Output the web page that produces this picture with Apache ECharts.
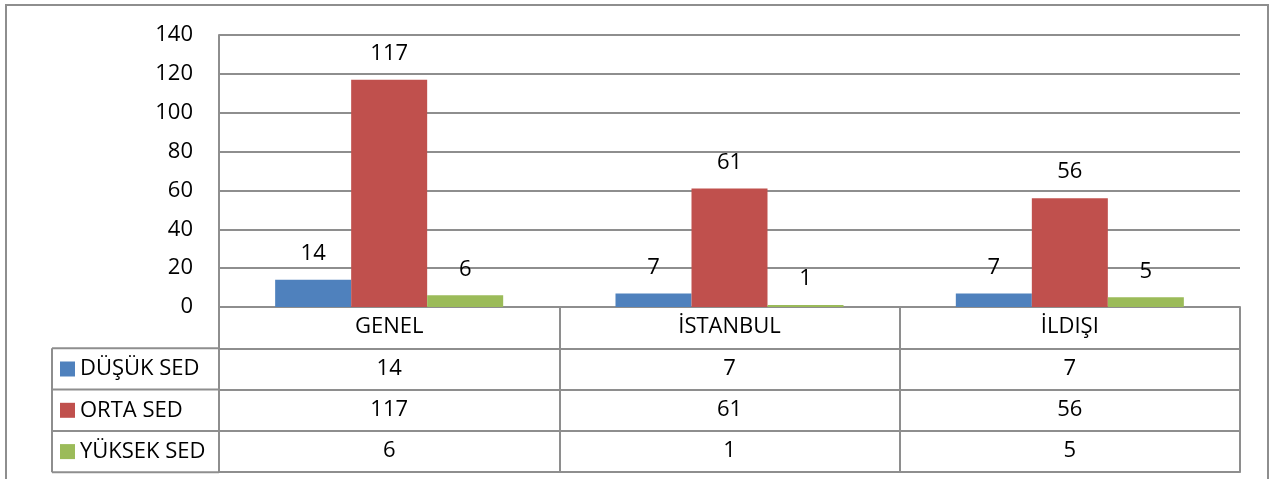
<!DOCTYPE html>
<html>
<head>
<meta charset="utf-8">
<script src="https://cdn.jsdelivr.net/npm/echarts@6/dist/echarts.min.js"></script>
<style>
  html, body { margin: 0; padding: 0; background: #fff; }
  #chart { width: 1280px; height: 479px; }
</style>
</head>
<body>
<div id="chart"></div>
<script>
  // data
  const categories = ['GENEL', 'İSTANBUL', 'İLDIŞI'];
  const seriesNames = ['DÜŞÜK SED', 'ORTA SED', 'YÜKSEK SED'];
  const dusukSed = [14, 7, 7];
  const ortaSed = [117, 61, 56];
  const yuksekSed = [6, 1, 5];
  const colors = ['#4F81BD', '#C0504D', '#9BBB59'];

  const FONT = 'Open Sans';
  const FS = 22;
  const LINE = '#8e8e8e';
  const ROW = 41.3;

  let chart = echarts.init(document.getElementById('chart'));

  // one extra x axis per table row, its labels are the series values
  function rowAxis(values, offset) {
    return {
      type: 'category',
      position: 'bottom',
      offset: offset,
      data: values.map(String),
      axisLine: { show: true, lineStyle: { color: LINE, width: 2 } },
      axisTick: { show: true, inside: false, length: ROW, lineStyle: { color: LINE, width: 2 } },
      axisLabel: { interval: 0, margin: 9, fontSize: FS, fontFamily: FONT, color: '#000' }
    };
  }

  const allValues = [dusukSed, ortaSed, yuksekSed];

  let option = {
    animation: false,
    backgroundColor: '#fff',
    color: colors,
    grid: { left: 219, right: 40, top: 35, bottom: 172 },
    legend: {
      data: seriesNames,
      orient: 'vertical',
      left: 60,
      top: 358,
      padding: 0,
      icon: 'rect',
      itemWidth: 15,
      itemHeight: 15,
      itemGap: 19.3,
      selectedMode: false,
      textStyle: { fontSize: FS, lineHeight: 22, fontFamily: FONT, color: '#000' }
    },
    xAxis: [
      {
        type: 'category',
        data: categories,
        axisLine: { show: true, lineStyle: { color: LINE, width: 2 } },
        axisTick: { show: true, inside: false, length: ROW, lineStyle: { color: LINE, width: 2 } },
        axisLabel: { interval: 0, margin: 9, fontSize: FS, fontFamily: FONT, color: '#000' }
      },
      rowAxis(dusukSed, ROW),
      rowAxis(ortaSed, ROW * 2),
      rowAxis(yuksekSed, ROW * 3),
      {
        type: 'category',
        position: 'bottom',
        offset: ROW * 4,
        data: categories,
        axisLine: { show: true, lineStyle: { color: LINE, width: 2 } },
        axisTick: { show: false },
        axisLabel: { show: false }
      }
    ],
    yAxis: {
      type: 'value',
      min: 0,
      max: 140,
      interval: 20,
      axisLine: { show: true, lineStyle: { color: LINE, width: 2 } },
      axisTick: { show: false },
      axisLabel: { margin: 26, fontSize: FS, fontFamily: FONT, color: '#000' },
      splitLine: { show: true, lineStyle: { color: LINE, width: 2 } }
    },
    series: seriesNames.map(function (name, i) {
      return {
        name: name,
        type: 'bar',
        xAxisIndex: 0,
        barGap: '0%',
        barCategoryGap: '33%',
        data: allValues[i],
        label: {
          show: true,
          position: 'top',
          distance: 15,
          fontSize: FS,
          fontFamily: FONT,
          color: '#000'
        }
      };
    }),
    graphic: [
      {
        type: 'rect',
        shape: { x: 6, y: 5, width: 1262, height: 500 },
        style: { fill: 'none', stroke: LINE, lineWidth: 2 },
        silent: true
      }
    ]
  };

  // left column of the data table (series names)
  const tableTop = 307;
  for (let r = 1; r <= 4; r++) {
    option.graphic.push({
      type: 'line',
      shape: { x1: 52, y1: tableTop + ROW * r, x2: 219, y2: tableTop + ROW * r },
      style: { stroke: LINE, lineWidth: 2 },
      silent: true
    });
  }
  option.graphic.push({
    type: 'line',
    shape: { x1: 52, y1: tableTop + ROW, x2: 52, y2: tableTop + ROW * 4 },
    style: { stroke: LINE, lineWidth: 2 },
    silent: true
  });

  chart.setOption(option);
</script>
</body>
</html>
